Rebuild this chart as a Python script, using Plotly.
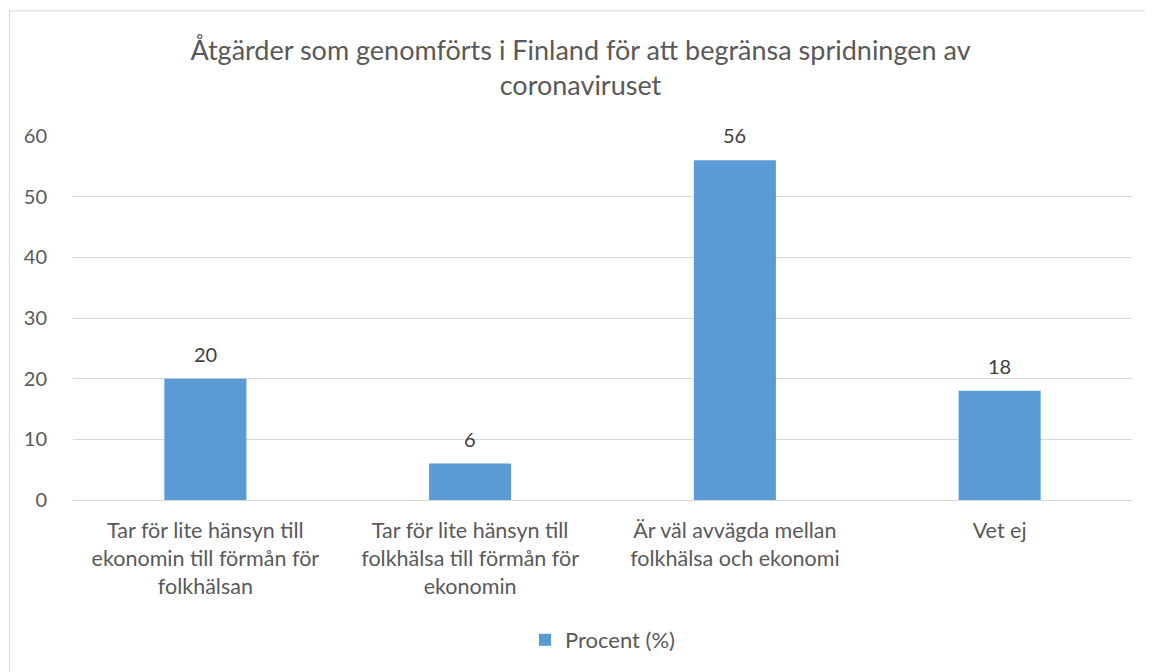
import plotly.graph_objects as go

categories = [
    "Tar för lite hänsyn till<br>ekonomin till förmån för<br>folkhälsan",
    "Tar för lite hänsyn till<br>folkhälsa till förmån för<br>ekonomin",
    "Är väl avvägda mellan<br>folkhälsa och ekonomi",
    "Vet ej",
]
values = [20, 6, 56, 18]
series_name = "Procent (%)"
title_text = "Åtgärder som genomförts i Finland för att begränsa spridningen av<br>coronaviruset"

OFF = 8  # page body margin
W, H = 1153 - OFF, 672 - OFF
L, T = 73 - OFF, 136 - OFF
R = W - (1132 - OFF)
B = H - (501 - OFF)
pw, ph = W - L - R, H - T - B

def px2x(px):
    return (px - OFF - L) / pw

def py2y(py):
    return (H - B - (py - OFF)) / ph

font_family = "Lato, Carlito, Open Sans, sans-serif"
txt = "#595959"
fig = go.Figure()
fig.add_trace(go.Bar(
    x=categories, y=values, name=series_name,
    marker=dict(color="#5B9BD5", line=dict(width=0)),
    textposition="none",
))
for c, v in zip(categories, values):
    fig.add_annotation(x=c, y=v, text=str(v), showarrow=False, yanchor="bottom",
                       yshift=11, font=dict(size=20, color="#404040", family=font_family))
fig.update_layout(
    width=W, height=H,
    margin=dict(l=L, r=R, t=T, b=B),
    paper_bgcolor="white", plot_bgcolor="white",
    font=dict(family=font_family, color=txt, size=20),
    title=dict(text=title_text, x=0.5, xanchor="center", y=1 - (60 - OFF) / H, yanchor="middle",
               font=dict(size=27, color=txt, family=font_family)),
    bargap=0.69,
    showlegend=True,
    legend=dict(orientation="h", x=0.5, xanchor="center", y=py2y(640), yanchor="middle",
                font=dict(size=22, color=txt), itemwidth=30),
    xaxis=dict(showgrid=False, showline=True, linecolor="#D9D9D9", linewidth=1,
               ticks="", ticklabelstandoff=11, tickfont=dict(size=21.5, color=txt)),
    yaxis=dict(range=[0, 60], dtick=10, showgrid=True, gridcolor="#D9D9D9", gridwidth=1,
               zeroline=False, showline=False, ticks="", ticklabelstandoff=25,
               tickfont=dict(size=20, color=txt)),
)
fig.add_shape(type="rect", xref="paper", yref="paper",
              x0=px2x(9.5), x1=px2x(1152 + 20), y0=py2y(10.5), y1=py2y(672 + 20),
              line=dict(color="#D9D9D9", width=1), fillcolor="rgba(0,0,0,0)", layer="below")
fig.write_html("out.html")
